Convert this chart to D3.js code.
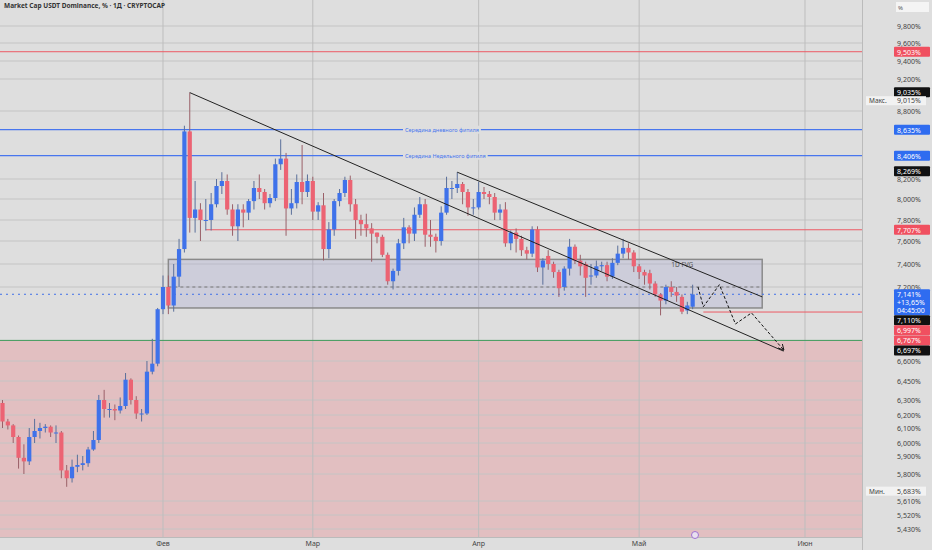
<!DOCTYPE html>
<html><head><meta charset="utf-8">
<script src="https://cdn.jsdelivr.net/npm/d3@7"></script>
<style>body{margin:0;background:#dedede;font-family:"Noto Sans",sans-serif}</style>
</head><body>
<svg id="chart" width="932" height="550"></svg>
<script>
// daily candles from 2 Jan, one per day
const firstDay = '2025-01-02'
const opens  = [6.28,6.15,6.12,6.04,5.89,5.87,6.04,6.08,6.10,6.11,6.07,6.07,5.82,5.77,5.84,5.85,5.86,5.95,6.02,6.30,6.24,6.24,6.23,6.26,6.46,6.30,6.21,6.21,6.52,6.58,
  7.02,7.20,7.05,7.29,7.53,8.62,7.82,7.90,7.80,7.80,7.95,8.13,8.18,7.90,7.74,7.90,7.87,7.98,8.11,8.07,7.96,8.01,8.33,8.38,7.91,7.96,8.17,8.07,
  8.18,7.88,7.94,7.53,7.71,7.98,8.06,8.19,7.95,7.80,7.76,7.72,7.68,7.64,7.48,7.25,7.34,7.58,7.73,7.67,7.85,7.95,7.66,7.64,7.60,7.87,8.11,8.11,8.15,8.07,7.92,
  7.92,8.07,8.05,8.02,7.87,7.90,7.58,7.68,7.62,7.52,7.49,7.71,7.37,7.47,7.40,7.33,7.20,7.36,7.55,7.43,7.40,7.30,7.30,7.38,7.39,7.29,7.41,7.49,7.54,7.50,
  7.38,7.33,7.32,7.23,7.14,7.09,7.20,7.16,7.12,7.01,7.04]
const highs  = [6.30,6.17,6.13,6.05,5.99,6.10,6.17,6.14,6.13,6.12,6.12,6.08,5.85,5.88,5.91,5.90,5.97,6.08,6.34,6.38,6.28,6.27,6.32,6.51,6.47,6.33,6.24,6.60,6.78,7.03,
  7.30,7.30,7.40,7.62,8.67,9.03,8.18,7.96,8.00,8.06,8.20,8.26,8.24,7.95,7.95,7.95,8.00,8.18,8.24,8.10,8.05,8.38,8.55,8.43,8.10,8.24,8.50,8.24,
  8.22,7.97,8.06,7.78,8.00,8.10,8.22,8.23,8.00,7.85,7.86,7.77,7.68,7.66,7.50,7.36,7.62,7.82,7.75,7.92,8.02,8.00,7.80,7.67,7.93,8.22,8.18,8.26,8.17,8.10,8.00,
  8.17,8.12,8.08,8.06,7.95,7.97,7.70,7.72,7.65,7.55,7.74,7.74,7.45,7.52,7.42,7.35,7.38,7.62,7.57,7.48,7.42,7.40,7.43,7.42,7.42,7.45,7.56,7.62,7.58,7.52,
  7.40,7.35,7.35,7.25,7.15,7.22,7.25,7.20,7.14,7.08,7.22]
const lows   = [6.10,6.09,6.00,5.83,5.80,5.85,6.00,6.03,6.07,6.04,6.00,5.77,5.71,5.74,5.81,5.82,5.84,5.94,6.00,6.18,6.18,6.16,6.21,6.24,6.27,6.17,6.15,6.20,6.50,6.56,
  6.98,6.98,7.00,7.20,7.50,7.68,7.68,7.60,7.70,7.70,7.92,8.05,7.85,7.65,7.60,7.73,7.80,7.90,8.00,7.90,7.92,7.98,8.28,7.65,7.85,7.91,7.95,8.02,
  7.80,7.80,7.43,7.45,7.65,7.93,8.02,7.88,7.62,7.65,7.64,7.42,7.58,7.46,7.22,7.18,7.30,7.53,7.58,7.60,7.82,7.55,7.55,7.50,7.56,7.85,8.00,8.06,7.95,7.84,7.85,
  7.90,8.00,7.95,7.80,7.80,7.55,7.52,7.50,7.47,7.44,7.46,7.33,7.22,7.35,7.28,7.12,7.17,7.30,7.40,7.30,7.12,7.22,7.28,7.34,7.25,7.27,7.39,7.45,7.44,7.33,
  7.27,7.22,7.18,7.12,6.97,7.06,7.12,7.08,6.98,6.98,7.02]
const closes = [6.15,6.12,6.04,5.89,5.87,6.04,6.08,6.10,6.11,6.07,6.07,5.82,5.77,5.84,5.85,5.86,5.95,6.02,6.30,6.24,6.24,6.23,6.26,6.46,6.30,6.21,6.21,6.52,6.58,7.02,
  7.20,7.05,7.29,7.53,8.62,7.82,7.90,7.80,7.80,7.95,8.13,8.18,7.90,7.74,7.90,7.87,7.98,8.11,8.07,7.96,8.01,8.33,8.38,7.91,7.96,8.17,8.07,8.18,
  7.88,7.94,7.53,7.71,7.98,8.06,8.19,7.95,7.80,7.76,7.72,7.67,7.64,7.48,7.25,7.34,7.58,7.73,7.67,7.85,7.95,7.66,7.64,7.60,7.87,8.11,8.11,8.15,8.07,7.92,7.92,
  8.07,8.05,8.02,7.87,7.90,7.58,7.68,7.62,7.52,7.49,7.71,7.37,7.43,7.40,7.33,7.19,7.36,7.55,7.43,7.38,7.28,7.30,7.38,7.39,7.29,7.41,7.49,7.54,7.50,7.38,
  7.33,7.30,7.23,7.14,7.09,7.20,7.16,7.13,7.00,7.05,7.14]

// price axis (the source chart is not linear, so ticks anchor the scale)
const tickValues = [9.8,9.6,9.4,9.2,8.8,8.2,8.0,7.8,7.6,7.4,7.2,6.6,6.45,6.3,6.2,6.1,6.0,5.9,5.8,5.61,5.52,5.43]
const tickPixels = [26,43,61,79,111,179,199,220,241,264,287,361,381,400,415,428,443,456,474,501,515,529]
const monthLabels = ['Фев','Мар','Апр','Май','Июн']
const monthDates = ['2025-02-01','2025-03-01','2025-04-01','2025-05-01','2025-06-01']

const redLevels = [9.503, 7.707, 6.997]
const blueLevels = [8.635, 8.406]
const blueNotes = ['Середина дневного фитиля', 'Середина Недельного фитиля']
const supportLevel = 6.767
const lastPrice = 7.141
const maxPrice = 9.035, minPrice = 5.683

const channelLow = [['2025-02-06', 9.03], ['2025-05-28', 6.68]]
const channelHigh = [['2025-03-28', 8.26], ['2025-05-24', 7.12]]
const fvgBox = {from: '2025-02-02', to: '2025-05-24', top: 7.44, bottom: 7.03, mid: 7.20}
const projection = [['2025-05-12',7.20],['2025-05-13',7.04],['2025-05-16',7.22],['2025-05-19',6.90],['2025-05-22',6.99],['2025-05-28',6.69]]

const priceTags = [
  {v: 9.503, text: '9,503%', bg: '#f05060'},
  {v: 9.035, text: '9,035%', bg: '#111'},
  {v: 8.635, text: '8,635%', bg: '#2f6cf0'},
  {v: 8.406, text: '8,406%', bg: '#2f6cf0'},
  {v: 8.269, text: '8,269%', bg: '#111'},
  {v: 7.707, text: '7,707%', bg: '#f05060'},
  {v: 7.141, text: '7,141%|+13,65%|04:45:00', bg: '#2f6cf0'},
  {v: 7.110, text: '7,110%', bg: '#111'},
  {v: 6.997, text: '6,997%', bg: '#f05060'},
  {v: 6.767, text: '6,767%', bg: '#f05060'},
  {v: 6.697, text: '6,697%', bg: '#111'}
]

const W = 932, H = 550, plotW = 862, plotH = 537
const blue = '#3f72ea', red = '#ec6373'
const svg = d3.select('#chart')
const day = d3.utcParse('%Y-%m-%d')

const x = d3.scaleUtc().domain([day('2025-02-01'), day('2025-06-01')]).range([163, 805])
const y = d3.scaleLinear().domain(tickValues).range(tickPixels)

const start = day(firstDay)
const candles = closes.map((c, i) => ({date: d3.utcDay.offset(start, i), o: opens[i], h: highs[i], l: lows[i], c}))

svg.append('rect').attr('width', W).attr('height', H).attr('fill', '#dedede')
svg.append('rect').attr('x', 0).attr('y', y(supportLevel)).attr('width', plotW).attr('height', plotH - y(supportLevel)).attr('fill', '#e2bfc1')

// grid
svg.append('g').selectAll('line').data(tickValues).join('line')
  .attr('x1', 0).attr('x2', plotW).attr('y1', d => y(d)).attr('y2', d => y(d))
  .attr('stroke', '#c4c4c4').attr('stroke-width', 1)
svg.append('g').selectAll('line').data(monthDates).join('line')
  .attr('x1', d => x(day(d))).attr('x2', d => x(day(d))).attr('y1', 0).attr('y2', plotH)
  .attr('stroke', '#bdbdbd')

// fvg
const fx0 = x(day(fvgBox.from)), fx1 = x(day(fvgBox.to))
svg.append('rect').attr('x', fx0).attr('y', y(fvgBox.top)).attr('width', fx1 - fx0).attr('height', y(fvgBox.bottom) - y(fvgBox.top))
  .attr('fill', 'rgba(160,160,210,0.28)').attr('stroke', '#8a8a8a').attr('stroke-width', 1.5)
svg.append('line').attr('x1', fx0).attr('x2', fx1).attr('y1', y(fvgBox.mid)).attr('y2', y(fvgBox.mid))
  .attr('stroke', '#777').attr('stroke-dasharray', '3,3')
svg.append('text').attr('x', x(day('2025-05-07'))).attr('y', y(fvgBox.top) + 8).attr('font-size', 6.5).attr('fill', '#555').text('1D FVG')

// levels
svg.append('line').attr('x1', 0).attr('x2', plotW).attr('y1', y(supportLevel)).attr('y2', y(supportLevel)).attr('stroke', '#3d9a5a').attr('stroke-width', 1)
const redFrom = [0, x(day('2025-02-09')), x(day('2025-05-13'))]
redLevels.forEach((v, i) => svg.append('line').attr('x1', redFrom[i]).attr('x2', plotW).attr('y1', y(v)).attr('y2', y(v)).attr('stroke', '#ec5a64').attr('stroke-width', 1))
blueLevels.forEach((v, i) => {
  svg.append('line').attr('x1', 0).attr('x2', plotW).attr('y1', y(v)).attr('y2', y(v)).attr('stroke', '#4876ee').attr('stroke-width', 1.3)
  const t = svg.append('text').attr('x', 405).attr('y', y(v) + 2).attr('font-size', 5.5).attr('fill', '#4876ee').text(blueNotes[i])
  const bb = t.node().getBBox()
  svg.insert('rect', 'text:last-of-type').attr('x', bb.x - 2).attr('y', bb.y).attr('width', bb.width + 4).attr('height', bb.height).attr('fill', '#dedede')
  t.raise()
})
svg.append('line').attr('x1', 0).attr('x2', plotW).attr('y1', y(lastPrice)).attr('y2', y(lastPrice))
  .attr('stroke', '#3f6fe8').attr('stroke-dasharray', '2,4')

// candles
const cw = 4.2
const g = svg.append('g')
g.selectAll('line').data(candles).join('line')
  .attr('x1', d => x(d.date)).attr('x2', d => x(d.date)).attr('y1', d => y(d.h)).attr('y2', d => y(d.l))
  .attr('stroke', d => d.c >= d.o ? '#5a6f9a' : '#9a6068')
g.selectAll('rect').data(candles).join('rect')
  .attr('x', d => x(d.date) - cw / 2).attr('width', cw)
  .attr('y', d => y(Math.max(d.o, d.c))).attr('height', d => Math.max(1, Math.abs(y(d.o) - y(d.c))))
  .attr('fill', d => d.c >= d.o ? blue : red)

// trend lines
const line = d3.line().x(d => x(day(d[0]))).y(d => y(d[1]))
;[channelLow, channelHigh].forEach(c => svg.append('path').attr('d', line(c)).attr('stroke', '#222').attr('fill', 'none').attr('stroke-width', 1))
svg.append('defs').append('marker').attr('id', 'arr').attr('viewBox', '0 0 10 10').attr('refX', 9).attr('refY', 5)
  .attr('markerWidth', 6).attr('markerHeight', 6).attr('orient', 'auto')
  .append('path').attr('d', 'M0,0L10,5L0,10').attr('fill', 'none').attr('stroke', '#111').attr('stroke-width', 1.5)
svg.append('path').attr('d', line(projection)).attr('stroke', '#111').attr('fill', 'none').attr('stroke-dasharray', '3,2').attr('marker-end', 'url(#arr)')

// right scale
svg.append('rect').attr('x', plotW).attr('y', 0).attr('width', W - plotW).attr('height', H).attr('fill', '#dedede')
svg.append('line').attr('x1', plotW + 0.5).attr('x2', plotW + 0.5).attr('y1', 0).attr('y2', H).attr('stroke', '#bbb')
svg.append('line').attr('x1', 0).attr('x2', plotW).attr('y1', plotH + 0.5).attr('y2', plotH + 0.5).attr('stroke', '#bbb')
svg.append('g').selectAll('text').data(tickValues).join('text')
  .attr('x', 897).attr('y', d => y(d) + 2.5).attr('font-size', 7).attr('fill', '#444')
  .text(d => d3.format('.3f')(d).replace('.', ',') + '%')
svg.append('rect').attr('x', 896).attr('y', 2).attr('width', 33).attr('height', 10).attr('fill', '#f4f4f4')
svg.append('text').attr('x', 898).attr('y', 9.5).attr('font-size', 6).attr('fill', '#555').text('%')

// stacked price tags
let prevBottom = -99
priceTags.forEach(t => {
  const lines = t.text.split('|')
  const h = lines.length * 8 + 2
  let top = y(t.v) - 5
  if (top < prevBottom) top = prevBottom
  prevBottom = top + h
  svg.append('rect').attr('x', 894).attr('y', top).attr('width', 36).attr('height', h).attr('fill', t.bg).attr('rx', 1)
  lines.forEach((s, j) => svg.append('text').attr('x', 897).attr('y', top + 8 + j * 8).attr('font-size', 7).attr('fill', '#fff').text(s))
})
;[[maxPrice, 'Макс.', '9,015%', 8], [minPrice, 'Мин.', '5,683%', 0]].forEach(([v, lab, txt, dy]) => {
  svg.append('rect').attr('x', 866).attr('y', y(v) - 4 + dy).attr('width', 60).attr('height', 9).attr('fill', '#f2f2f2')
  svg.append('text').attr('x', 869).attr('y', y(v) + 3 + dy).attr('font-size', 6.5).attr('fill', '#444').text(lab)
  svg.append('text').attr('x', 897).attr('y', y(v) + 3 + dy).attr('font-size', 7).attr('fill', '#444').text(txt)
})

// time axis
svg.append('g').selectAll('text').data(monthLabels).join('text')
  .attr('x', (d, i) => x(day(monthDates[i]))).attr('y', 546).attr('text-anchor', 'middle')
  .attr('font-size', 7).attr('fill', '#444').text(d => d)
svg.append('circle').attr('cx', 695).attr('cy', 535).attr('r', 3.5).attr('fill', '#e8e0f0').attr('stroke', '#a070d0')

svg.append('text').attr('x', 4).attr('y', 8).attr('font-size', 6.5).attr('font-weight', 'bold').attr('fill', '#333')
  .text('Market Cap USDT Dominance, % · 1Д · CRYPTOCAP')
</script>
</body></html>
